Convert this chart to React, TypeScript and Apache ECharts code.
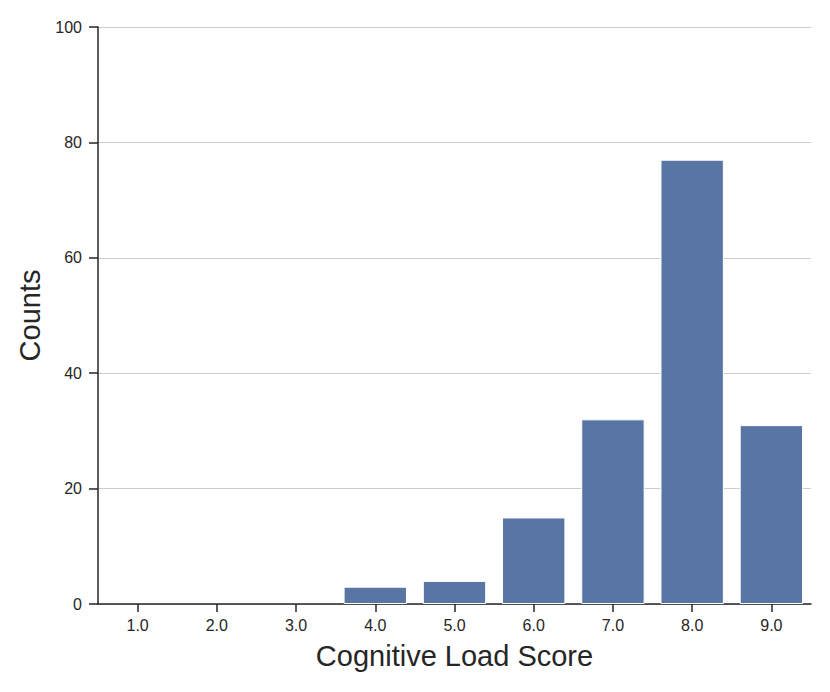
import React, { useEffect, useRef } from "react";
import * as echarts from "echarts";

const categories = ["1.0", "2.0", "3.0", "4.0", "5.0", "6.0", "7.0", "8.0", "9.0"];
const counts = [0, 0, 0, 3, 4, 15, 32, 77, 31];
const xTitle = "Cognitive Load Score";
const yTitle = "Counts";

export default function App() {
  const ref = useRef<HTMLDivElement>(null);
  useEffect(() => {
    if (!ref.current) return;
    const chart = echarts.init(ref.current, undefined, { renderer: "svg" });
    const font = "Liberation Sans, Arial, Helvetica, sans-serif";
    chart.setOption({
      animation: false,
      backgroundColor: "#ffffff",
      grid: { left: 98, right: 19, top: 27, bottom: 88, containLabel: false },
      xAxis: {
        type: "category",
        data: categories,
        name: xTitle,
        nameLocation: "middle",
        nameGap: 37,
        nameTextStyle: { fontFamily: font, fontSize: 29, color: "#262626" },
        axisLine: { show: true, lineStyle: { color: "#262626", width: 1.5 } },
        axisTick: { show: true, alignWithLabel: true, length: 8, lineStyle: { color: "#262626", width: 1.5 } },
        axisLabel: { fontFamily: font, fontSize: 16, color: "#262626", margin: 13 },
        splitLine: { show: false },
      },
      yAxis: {
        type: "value",
        min: 0,
        max: 100,
        interval: 20,
        name: yTitle,
        nameLocation: "middle",
        nameGap: 51,
        nameTextStyle: { fontFamily: font, fontSize: 29, color: "#262626" },
        axisLine: { show: true, lineStyle: { color: "#262626", width: 1.5 } },
        axisTick: { show: true, length: 9, lineStyle: { color: "#262626", width: 1.5 } },
        axisLabel: { fontFamily: font, fontSize: 16, color: "#262626", margin: 16 },
        splitLine: { show: true, lineStyle: { color: "#cccccc", width: 1 } },
      },
      series: [
        {
          type: "bar",
          data: counts.map((v) => (v === 0 ? { value: v, itemStyle: { borderWidth: 0, opacity: 0 } } : v)),
          barWidth: "80%",
          itemStyle: { color: "#5875A4", borderColor: "#ffffff", borderWidth: 1 },
        },
      ],
    });
    return () => chart.dispose();
  }, []);
  return <div ref={ref} style={{ width: 830, height: 692, margin: -8 }} />;
}
